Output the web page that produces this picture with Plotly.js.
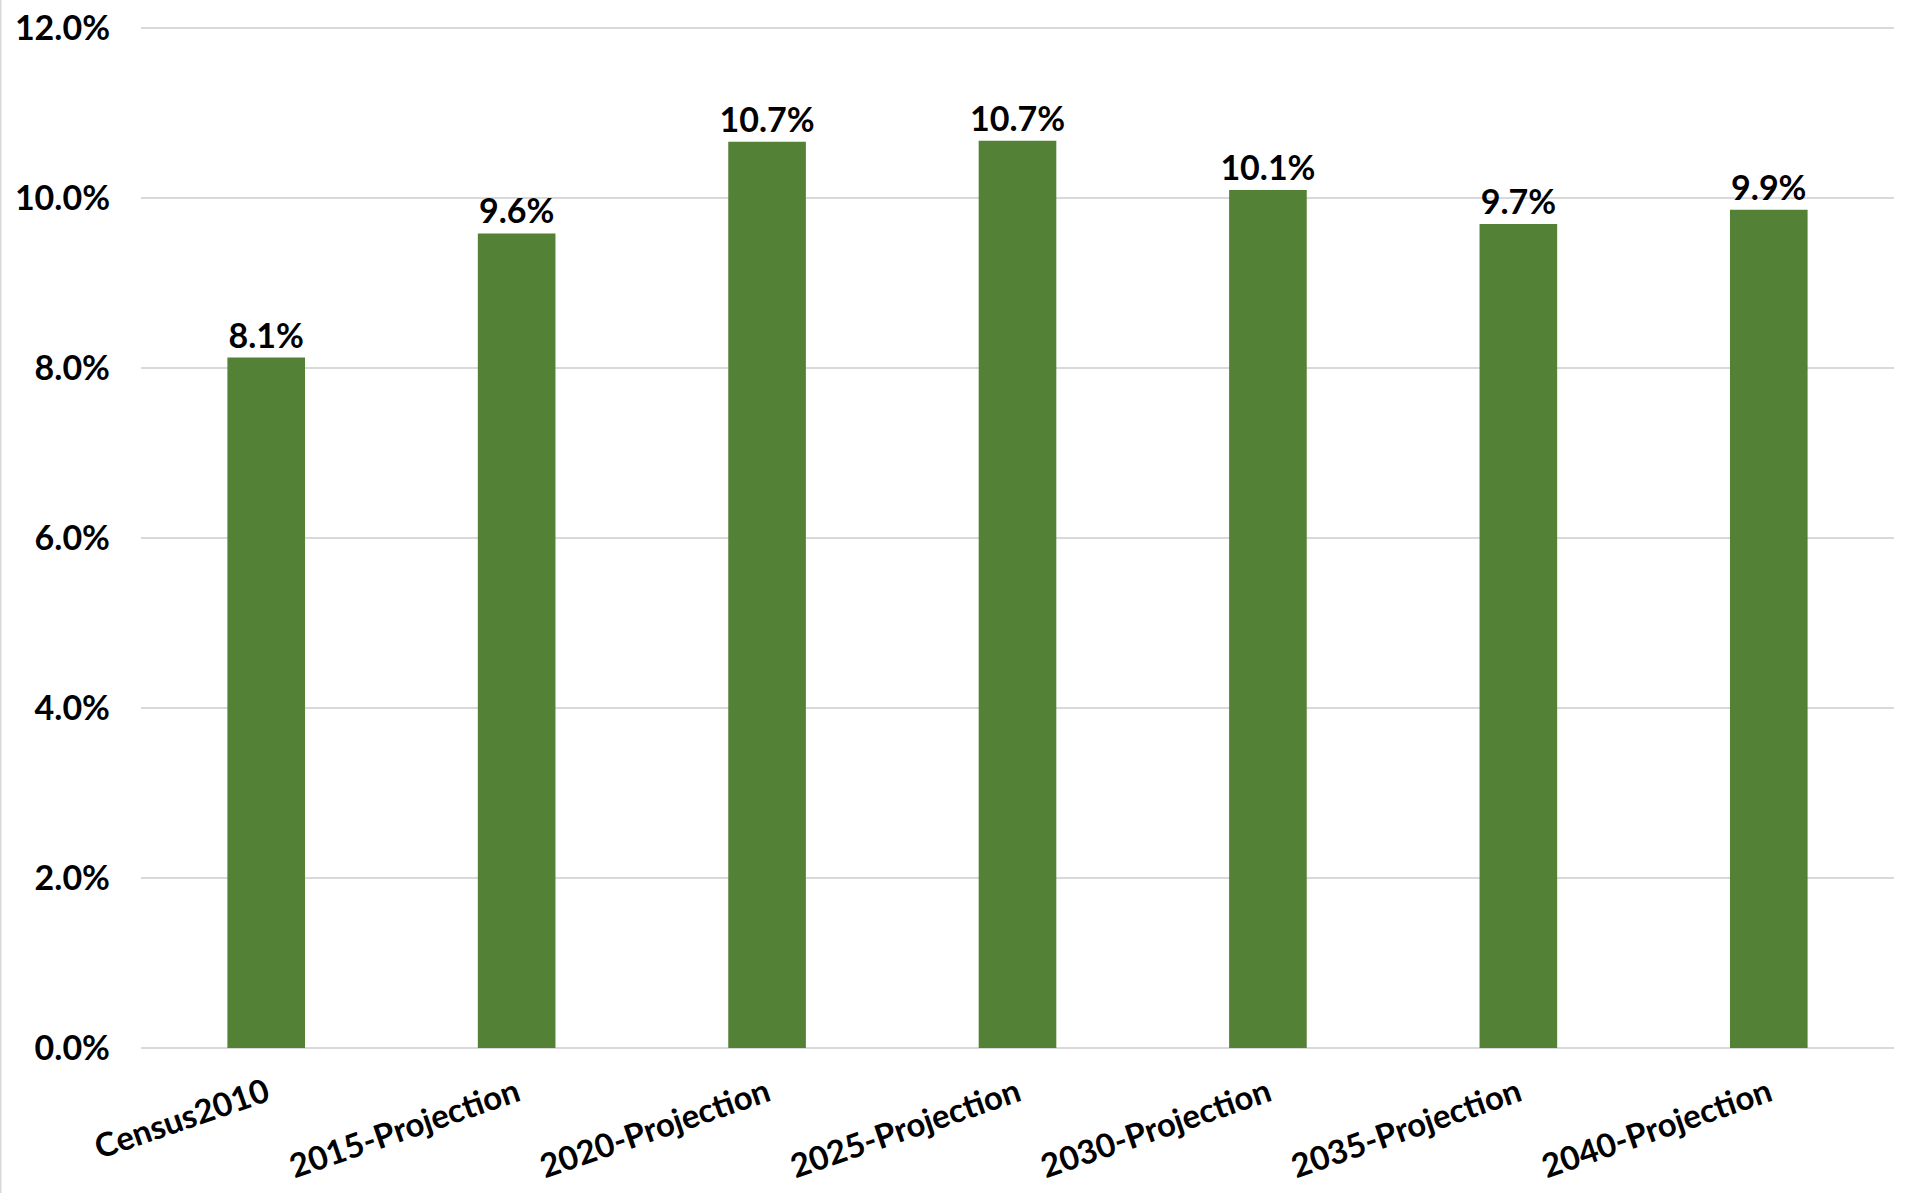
<!DOCTYPE html>
<html>
<head>
<meta charset="utf-8">
<script src="https://cdn.plot.ly/plotly-3.0.1.min.js"></script>
<style>html,body{margin:0;padding:0;background:#fff;}#chart{width:1915px;height:1193px;}</style>
</head>
<body>
<div id="chart"></div>
<script>
var categories = ["Census2010", "2015-Projection", "2020-Projection", "2025-Projection", "2030-Projection", "2035-Projection", "2040-Projection"];
var shares = [0.0812, 0.0958, 0.1066, 0.1067, 0.1009, 0.0969, 0.0986];
var yTicks = [0, 0.02, 0.04, 0.06, 0.08, 0.10, 0.12];

var fontFam = "Lato, 'Open Sans', sans-serif";

var trace = {
  type: "bar",
  x: categories,
  y: shares,
  marker: {color: "#538135"},
  texttemplate: "%{y:.1%}",
  textposition: "outside",
  constraintext: "none",
  cliponaxis: false,
  textfont: {family: fontFam, size: 34, color: "#000", weight: "bold"},
  hoverinfo: "none"
};

var layout = {
  width: 1915,
  height: 1193,
  margin: {l: 141, r: 21, t: 26, b: 145},
  paper_bgcolor: "#fff",
  plot_bgcolor: "#fff",
  bargap: 0.69,
  showlegend: false,
  font: {family: fontFam, color: "#000"},
  xaxis: {
    type: "category",
    tickangle: -19,
    tickfont: {family: fontFam, size: 33, color: "#000", weight: "bold"},
    showgrid: false,
    showline: false,
    ticks: "",
    ticklabelstandoff: 19,
    automargin: false
  },
  yaxis: {
    range: [0, 0.1202],
    tickvals: yTicks,
    tickformat: ".1%",
    tickfont: {family: fontFam, size: 34, color: "#000", weight: "bold"},
    showgrid: true,
    gridcolor: "#d9d9d9",
    gridwidth: 2,
    zeroline: true,
    zerolinecolor: "#d9d9d9",
    zerolinewidth: 2,
    showline: false,
    ticks: "",
    ticklabelstandoff: 30,
    automargin: false
  },
  shapes: [{
    type: "line", xref: "paper", yref: "paper",
    x0: -141/1753, x1: -141/1753, y0: -145/1022, y1: 26/1022 + 1,
    line: {color: "#d9d9d9", width: 3}
  }]
};

Plotly.newPlot("chart", [trace], layout, {displayModeBar: false, staticPlot: true});
</script>
</body>
</html>
